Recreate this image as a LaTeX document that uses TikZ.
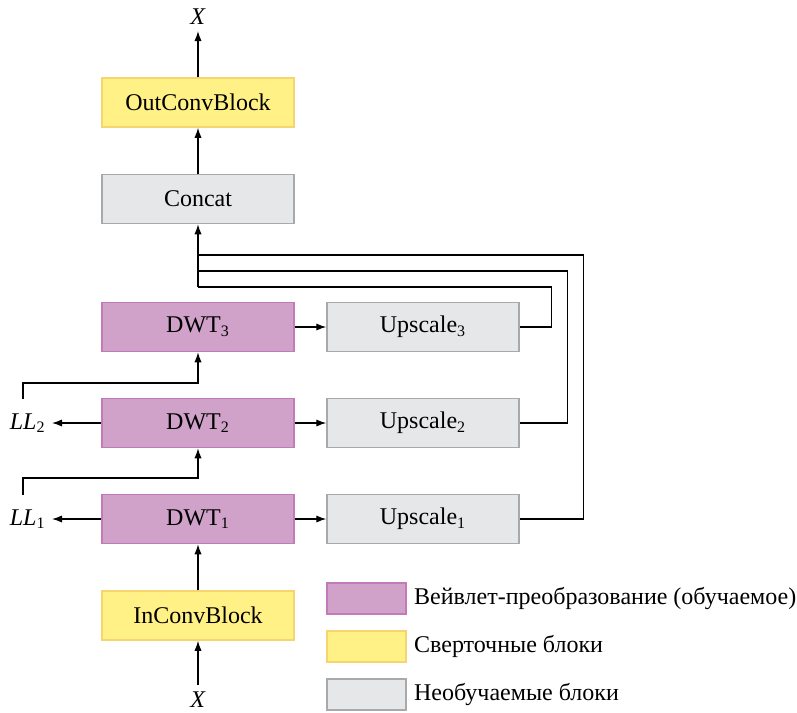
\documentclass[tikz,border=0pt]{standalone}
\usepackage{fontspec}
\setmainfont{Liberation Serif}
\usetikzlibrary{arrows.meta,positioning}

\definecolor{wavefill}{HTML}{D0A1C9}
\definecolor{wavedraw}{HTML}{C27BB8}
\definecolor{convfill}{HTML}{FFF185}
\definecolor{convdraw}{HTML}{F7D56E}
\definecolor{fixfill}{HTML}{E6E7E8}
\definecolor{fixdraw}{HTML}{A7A9AC}

\tikzset{
  blk/.style={draw, line width=0.75pt, minimum width=96pt, minimum height=24.5pt, inner sep=0pt, font=\fontsize{12}{14}\selectfont},
  wave/.style={blk, fill=wavefill, draw=wavedraw},
  conv/.style={blk, fill=convfill, draw=convdraw},
  fix/.style={blk, fill=fixfill, draw=fixdraw},
  swatch/.style={draw, line width=0.75pt, minimum width=39.5pt, minimum height=15.5pt, inner sep=0pt},
  lbl/.style={font=\fontsize{12}{14}\selectfont, inner sep=0pt},
  arr/.style={-{Latex[length=5pt,width=3.6pt]}, line width=0.6pt},
  wire/.style={line width=0.6pt}
}

\begin{document}
\begin{tikzpicture}[x=0.5pt,y=-0.5pt]
\useasboundingbox (0,0) rectangle (797,712);
% blocks
\node[conv] (outconv) at (198,102.5) {OutConvBlock};
\node[fix] (concat) at (198,199) {Concat};
\node[wave] (dwt3) at (198,327) {DWT\textsubscript{3}};
\node[wave] (dwt2) at (198,423) {DWT\textsubscript{2}};
\node[wave] (dwt1) at (198,519) {DWT\textsubscript{1}};
\node[conv] (inconv) at (198,615.5) {InConvBlock};
\node[fix] (up3) at (423,327) {Upscale\textsubscript{3}};
\node[fix] (up2) at (423,423) {Upscale\textsubscript{2}};
\node[fix] (up1) at (423,519) {Upscale\textsubscript{1}};
% labels
\node[lbl] (xout) at (198,17) {\textit{X}};
\node[lbl] (xin) at (198,700) {\textit{X}};
\node[lbl,anchor=east] (ll2) at (46,423) {\textit{LL}\textsubscript{2}};
\node[lbl,anchor=east] (ll1) at (46,519) {\textit{LL}\textsubscript{1}};
\coordinate (xouttip) at (198,31);
\coordinate (xinfoot) at (198,685);
\coordinate (ll2top) at (23,399);
\coordinate (ll1top) at (23,495);
\coordinate (j1) at (198,255);
\coordinate (j2) at (198,271);
\coordinate (j3) at (198,287);
% main chain
\draw[arr] (xinfoot) -- (inconv.south);
\draw[arr] (inconv.north) -- (dwt1.south);
\draw[arr] (concat.north) -- (outconv.south);
\draw[arr] (outconv.north) -- (xouttip);
\draw[arr] (dwt1.west) -- ([xshift=3pt]ll1.east);
\draw[arr] (dwt2.west) -- ([xshift=3pt]ll2.east);
\draw[arr] (ll1top) -- ++(0,-17) -| (dwt2.south);
\draw[arr] (ll2top) -- ++(0,-16) -| (dwt3.south);
\draw[arr] (dwt1.east) -- (up1.west);
\draw[arr] (dwt2.east) -- (up2.west);
\draw[arr] (dwt3.east) -- (up3.west);
% feedback to concat
\draw[wire] (up3.east) -- ++(32,0) |- (j3);
\draw[wire] (up2.east) -- ++(48,0) |- (j2);
\draw[wire] (up1.east) -- ++(64,0) |- (j1);
\draw[arr] (j3) -- (concat.south);
% legend
\node[swatch, fill=wavefill, draw=wavedraw] (sw1) at (366.5,598.5) {};
\node[swatch, fill=convfill, draw=convdraw] (sw2) at (366.5,646.5) {};
\node[swatch, fill=fixfill, draw=fixdraw] (sw3) at (366.5,694.5) {};
\node[lbl, right=3.5pt of sw1] (t1) {Вейвлет-преобразование (обучаемое)};
\node[lbl, right=3.5pt of sw2] (t2) {Сверточные блоки};
\node[lbl, right=3.5pt of sw3] (t3) {Необучаемые блоки};
\end{tikzpicture}
\end{document}
